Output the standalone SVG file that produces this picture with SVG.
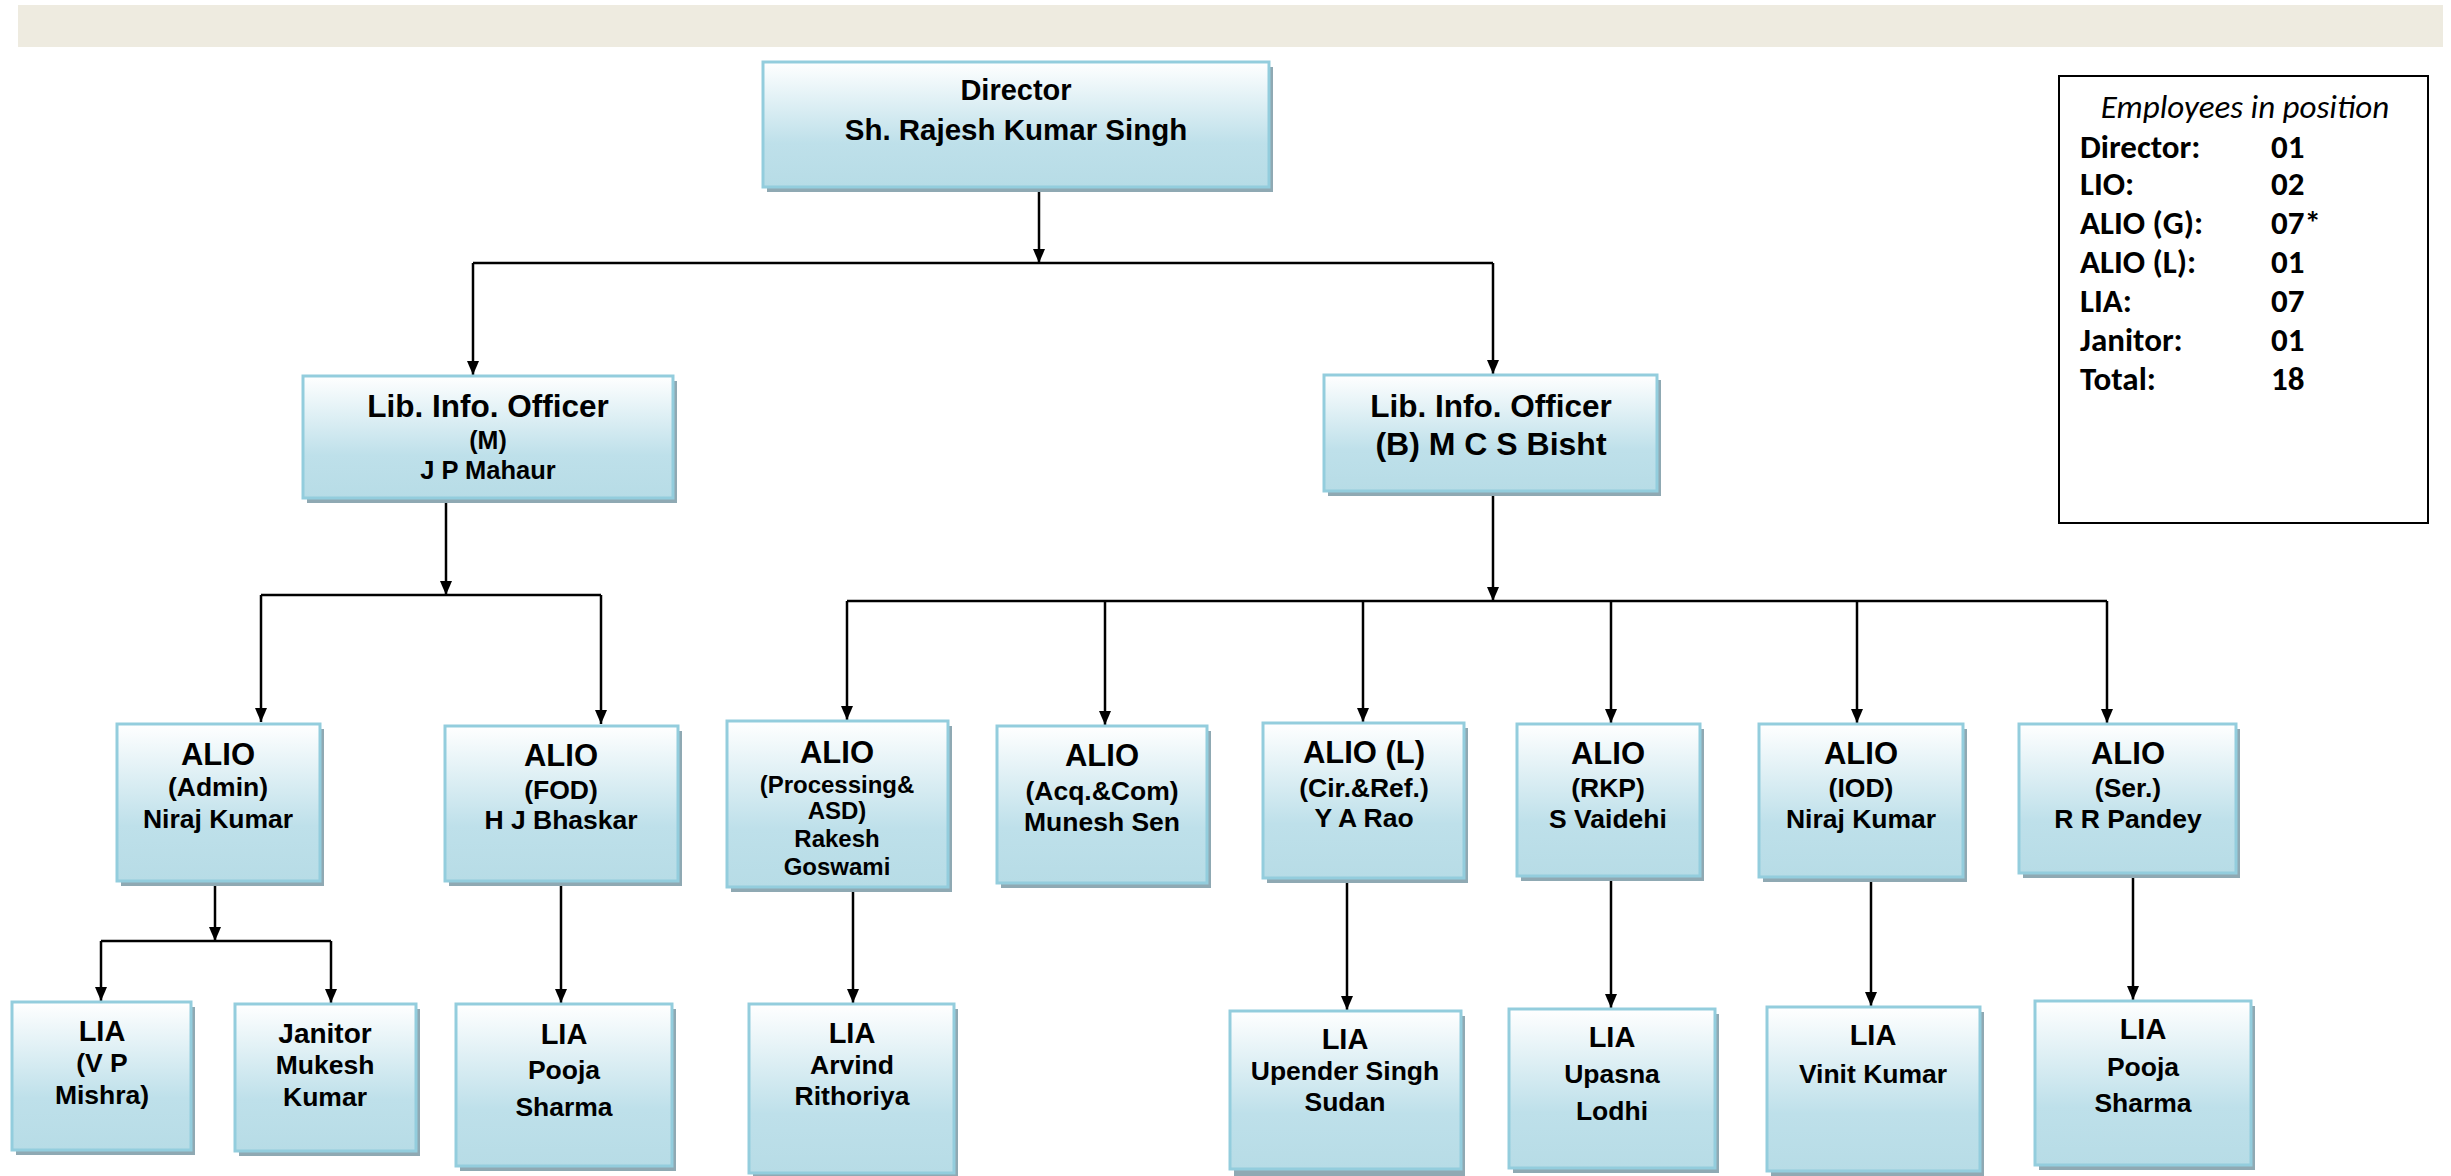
<svg xmlns="http://www.w3.org/2000/svg" width="2451" height="1176" viewBox="0 0 2451 1176">
<defs>
<linearGradient id="g" x1="0" y1="0" x2="0" y2="1">
<stop offset="0" stop-color="#FFFFFF"/>
<stop offset="0.65" stop-color="#BEE0EA"/>
<stop offset="1" stop-color="#B7DCE6"/>
</linearGradient>
<marker id="ah" markerUnits="userSpaceOnUse" viewBox="0 0 14 12" markerWidth="14" markerHeight="12" refX="14" refY="6" orient="auto">
<path d="M0,0 L14,6 L0,12 z" fill="#000"/>
</marker>
<style>
.sh{fill:#8FA9B3}
.bx{fill:url(#g);stroke:#93CDDD;stroke-width:3}
.t{font-family:"Liberation Sans",Arial,sans-serif;font-weight:bold;fill:#000;text-anchor:middle}
.h{font-size:31px}
.s{font-size:26.5px}
.l{font-size:29px}
.c{fill:none;stroke:#000;stroke-width:2.5}
.a{fill:none;stroke:#000;stroke-width:2.5;marker-end:url(#ah)}
.e{font-family:Carlito,Calibri,Lato,"Open Sans",sans-serif;font-size:33px;fill:#000}
.eb{font-weight:bold}
</style>
</defs>
<rect x="18" y="5" width="2425" height="42" fill="#EEEBE0"/>

<g id="connectors">
<line class="a" x1="1039" y1="192" x2="1039" y2="263"/>
<line class="c" x1="473" y1="263" x2="1493" y2="263"/>
<line class="a" x1="473" y1="263" x2="473" y2="375"/>
<line class="a" x1="1493" y1="263" x2="1493" y2="374"/>
<line class="a" x1="446" y1="503" x2="446" y2="595"/>
<line class="c" x1="261" y1="595" x2="601" y2="595"/>
<line class="a" x1="261" y1="595" x2="261" y2="722"/>
<line class="a" x1="601" y1="595" x2="601" y2="724"/>
<line class="a" x1="1493" y1="496" x2="1493" y2="601"/>
<line class="c" x1="847" y1="601" x2="2107" y2="601"/>
<line class="a" x1="847" y1="601" x2="847" y2="720"/>
<line class="a" x1="1105" y1="601" x2="1105" y2="725"/>
<line class="a" x1="1363" y1="601" x2="1363" y2="722"/>
<line class="a" x1="1611" y1="601" x2="1611" y2="723"/>
<line class="a" x1="1857" y1="601" x2="1857" y2="723"/>
<line class="a" x1="2107" y1="601" x2="2107" y2="723"/>
<line class="a" x1="215" y1="886" x2="215" y2="941"/>
<line class="c" x1="101" y1="941" x2="331" y2="941"/>
<line class="a" x1="101" y1="941" x2="101" y2="1001"/>
<line class="a" x1="331" y1="941" x2="331" y2="1003"/>
<line class="a" x1="561" y1="886" x2="561" y2="1003"/>
<line class="a" x1="853" y1="891" x2="853" y2="1003"/>
<line class="a" x1="1347" y1="883" x2="1347" y2="1010"/>
<line class="a" x1="1611" y1="881" x2="1611" y2="1008"/>
<line class="a" x1="1871" y1="881" x2="1871" y2="1006"/>
<line class="a" x1="2133" y1="877" x2="2133" y2="1000"/>
</g>

<g id="director">
<rect class="sh" x="767" y="67" width="506" height="125"/>
<rect class="bx" x="763" y="62" width="506" height="125"/>
<text class="t" x="1016" y="100" font-size="29">Director</text>
<text class="t" x="1016" y="140" font-size="29.5">Sh. Rajesh Kumar Singh</text>
</g>

<g id="lio-m">
<rect class="sh" x="307" y="381" width="370" height="122"/>
<rect class="bx" x="303" y="376" width="370" height="122"/>
<text class="t" x="488" y="417" font-size="31.5">Lib. Info. Officer</text>
<text class="t" x="488" y="449" font-size="25">(M)</text>
<text class="t" x="488" y="479" font-size="25.5">J P Mahaur</text>
</g>

<g id="lio-b">
<rect class="sh" x="1328" y="380" width="333" height="116"/>
<rect class="bx" x="1324" y="375" width="333" height="116"/>
<text class="t" x="1491" y="417" font-size="31.5">Lib. Info. Officer</text>
<text class="t" x="1491" y="455" font-size="32">(B) M C S Bisht</text>
</g>

<g id="alio-admin">
<rect class="sh" x="121" y="729" width="203" height="157"/>
<rect class="bx" x="117" y="724" width="203" height="157"/>
<text class="t h" x="218" y="765">ALIO</text>
<text class="t s" x="218" y="796">(Admin)</text>
<text class="t s" x="218" y="828">Niraj Kumar</text>
</g>

<g id="alio-fod">
<rect class="sh" x="449" y="731" width="233" height="155"/>
<rect class="bx" x="445" y="726" width="233" height="155"/>
<text class="t h" x="561" y="766">ALIO</text>
<text class="t s" x="561" y="799">(FOD)</text>
<text class="t s" x="561" y="829">H J Bhaskar</text>
</g>

<g id="alio-processing">
<rect class="sh" x="731" y="726" width="221" height="166"/>
<rect class="bx" x="727" y="721" width="221" height="166"/>
<text class="t h" x="837" y="763">ALIO</text>
<text class="t" x="837" y="793" font-size="24">(Processing&amp;</text>
<text class="t" x="837" y="819" font-size="24">ASD)</text>
<text class="t" x="837" y="847" font-size="24">Rakesh</text>
<text class="t" x="837" y="875" font-size="24">Goswami</text>
</g>

<g id="alio-acq">
<rect class="sh" x="1001" y="731" width="210" height="157"/>
<rect class="bx" x="997" y="726" width="210" height="157"/>
<text class="t h" x="1102" y="766">ALIO</text>
<text class="t s" x="1102" y="800">(Acq.&amp;Com)</text>
<text class="t s" x="1102" y="831">Munesh Sen</text>
</g>

<g id="alio-l">
<rect class="sh" x="1267" y="728" width="201" height="155"/>
<rect class="bx" x="1263" y="723" width="201" height="155"/>
<text class="t h" x="1364" y="763">ALIO (L)</text>
<text class="t s" x="1364" y="797">(Cir.&amp;Ref.)</text>
<text class="t s" x="1364" y="827">Y A Rao</text>
</g>

<g id="alio-rkp">
<rect class="sh" x="1521" y="729" width="183" height="152"/>
<rect class="bx" x="1517" y="724" width="183" height="152"/>
<text class="t h" x="1608" y="764">ALIO</text>
<text class="t s" x="1608" y="797">(RKP)</text>
<text class="t s" x="1608" y="828">S Vaidehi</text>
</g>

<g id="alio-iod">
<rect class="sh" x="1763" y="729" width="204" height="153"/>
<rect class="bx" x="1759" y="724" width="204" height="153"/>
<text class="t h" x="1861" y="764">ALIO</text>
<text class="t s" x="1861" y="797">(IOD)</text>
<text class="t s" x="1861" y="828">Niraj Kumar</text>
</g>

<g id="alio-ser">
<rect class="sh" x="2023" y="729" width="217" height="149"/>
<rect class="bx" x="2019" y="724" width="217" height="149"/>
<text class="t h" x="2128" y="764">ALIO</text>
<text class="t s" x="2128" y="797">(Ser.)</text>
<text class="t s" x="2128" y="828">R R Pandey</text>
</g>

<g id="lia-vp-mishra">
<rect class="sh" x="16" y="1007" width="179" height="148"/>
<rect class="bx" x="12" y="1002" width="179" height="148"/>
<text class="t l" x="102" y="1041">LIA</text>
<text class="t s" x="102" y="1072">(V P</text>
<text class="t s" x="102" y="1104">Mishra)</text>
</g>

<g id="janitor">
<rect class="sh" x="239" y="1009" width="181" height="147"/>
<rect class="bx" x="235" y="1004" width="181" height="147"/>
<text class="t" x="325" y="1043" font-size="28">Janitor</text>
<text class="t s" x="325" y="1074">Mukesh</text>
<text class="t s" x="325" y="1106">Kumar</text>
</g>

<g id="lia-pooja-1">
<rect class="sh" x="460" y="1009" width="216" height="162"/>
<rect class="bx" x="456" y="1004" width="216" height="162"/>
<text class="t l" x="564" y="1044">LIA</text>
<text class="t s" x="564" y="1079">Pooja</text>
<text class="t s" x="564" y="1116">Sharma</text>
</g>

<g id="lia-arvind">
<rect class="sh" x="753" y="1009" width="205" height="169"/>
<rect class="bx" x="749" y="1004" width="205" height="169"/>
<text class="t l" x="852" y="1043">LIA</text>
<text class="t s" x="852" y="1074">Arvind</text>
<text class="t s" x="852" y="1105">Rithoriya</text>
</g>

<g id="lia-upender">
<rect class="sh" x="1234" y="1016" width="231" height="160"/>
<rect class="bx" x="1230" y="1011" width="231" height="158"/>
<text class="t l" x="1345" y="1049">LIA</text>
<text class="t s" x="1345" y="1080">Upender Singh</text>
<text class="t s" x="1345" y="1111">Sudan</text>
</g>

<g id="lia-upasna">
<rect class="sh" x="1513" y="1014" width="206" height="159"/>
<rect class="bx" x="1509" y="1009" width="206" height="159"/>
<text class="t l" x="1612" y="1047">LIA</text>
<text class="t s" x="1612" y="1083">Upasna</text>
<text class="t s" x="1612" y="1120">Lodhi</text>
</g>

<g id="lia-vinit">
<rect class="sh" x="1771" y="1012" width="213" height="164"/>
<rect class="bx" x="1767" y="1007" width="213" height="164"/>
<text class="t l" x="1873" y="1045">LIA</text>
<text class="t s" x="1873" y="1083">Vinit Kumar</text>
</g>

<g id="lia-pooja-2">
<rect class="sh" x="2039" y="1006" width="216" height="164"/>
<rect class="bx" x="2035" y="1001" width="216" height="164"/>
<text class="t l" x="2143" y="1039">LIA</text>
<text class="t s" x="2143" y="1076">Pooja</text>
<text class="t s" x="2143" y="1112">Sharma</text>
</g>

<g id="employees">
<rect x="2059" y="76" width="369" height="447" fill="#fff" stroke="#000" stroke-width="2"/>
<text class="e" x="2245" y="118" text-anchor="middle" font-style="italic">Employees in position</text>
<text class="e eb" x="2080" y="158">Director:</text><text class="e eb" x="2271" y="158">01</text>
<text class="e eb" x="2080" y="195">LIO:</text><text class="e eb" x="2271" y="195">02</text>
<text class="e eb" x="2080" y="234">ALIO (G):</text><text class="e eb" x="2271" y="234">07*</text>
<text class="e eb" x="2080" y="273">ALIO (L):</text><text class="e eb" x="2271" y="273">01</text>
<text class="e eb" x="2080" y="312">LIA:</text><text class="e eb" x="2271" y="312">07</text>
<text class="e eb" x="2080" y="351">Janitor:</text><text class="e eb" x="2271" y="351">01</text>
<text class="e eb" x="2080" y="390">Total:</text><text class="e eb" x="2271" y="390">18</text>
</g>
</svg>
